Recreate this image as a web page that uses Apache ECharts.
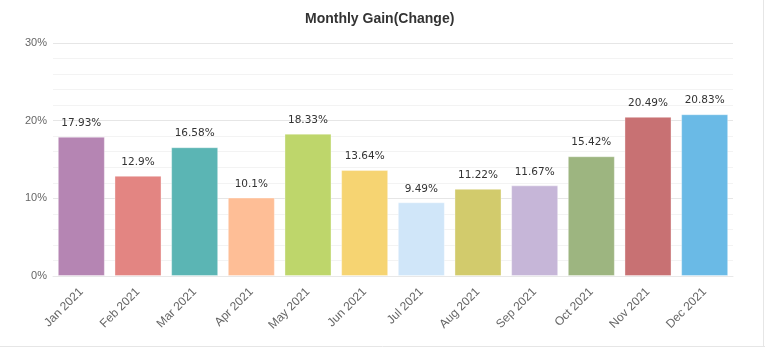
<!DOCTYPE html>
<html><head><meta charset="utf-8">
<script src="https://cdn.jsdelivr.net/npm/echarts@6/dist/echarts.min.js"></script>
<style>html,body{margin:0;padding:0;background:#fff}#c{width:765px;height:356px}</style>
</head><body><div id="c"></div>
<script>
const categories = ['Jan 2021','Feb 2021','Mar 2021','Apr 2021','May 2021','Jun 2021','Jul 2021','Aug 2021','Sep 2021','Oct 2021','Nov 2021','Dec 2021'];
const gains = [17.93, 12.9, 16.58, 10.1, 18.33, 13.64, 9.49, 11.22, 11.67, 15.42, 20.49, 20.83];
const barColors = ['#b585b3','#e38582','#5bb5b4','#febe96','#bed66b','#f6d472','#d0e6f9','#d2cb6c','#c6b6d8','#9db580','#c87173','#6abae6'];
const yTicks = [0, 10, 20, 30];

const chart = echarts.init(document.getElementById('c'));
chart.setOption({
  animation: false,
  title: {
    text: 'Monthly Gain(Change)', left: 300, top: 7,
    textStyle: {fontFamily: 'Liberation Sans, Arial', fontSize: 14, fontWeight: 'bold', color: '#333'}
  },
  grid: {left: 53, right: 32, top: 43, bottom: 80},
  xAxis: {
    type: 'category', data: categories,
    axisLine: {show: true, lineStyle: {color: '#e8e8e8'}},
    axisTick: {show: false},
    axisLabel: {rotate: 45, color: '#666', fontSize: 12, fontFamily: 'Liberation Sans, Arial', margin: 14, interval: 0}
  },
  yAxis: {
    type: 'value', min: yTicks[0], max: yTicks[yTicks.length-1], interval: 10,
    axisLine: {show: false}, axisTick: {show: false},
    axisLabel: {formatter: '{value}%', color: '#666', fontSize: 11, fontFamily: 'Liberation Sans, Arial', margin: 6},
    splitLine: {lineStyle: {color: '#e6e6e6'}},
    minorTick: {show: false, splitNumber: 5},
    minorSplitLine: {show: true, lineStyle: {color: '#f3f3f3'}}
  },
  series: [{
    type: 'bar',
    barCategoryGap: '17%',
    data: gains.map((v, i) => ({value: v, itemStyle: {color: barColors[i], borderColor: 'rgba(255,255,255,0.35)', borderWidth: 1}})),
    label: {
      show: true, position: 'top', distance: 8, formatter: p => p.value + '%',
      color: '#333', fontSize: 10.5, fontFamily: 'DejaVu Sans, Verdana'
    }
  }],
  graphic: [
    {type: 'line', shape: {x1: 763.5, y1: 0, x2: 763.5, y2: 346}, style: {stroke: '#e6e6e6', lineWidth: 1}},
    {type: 'line', shape: {x1: 0, y1: 346.5, x2: 765, y2: 346.5}, style: {stroke: '#e6e6e6', lineWidth: 1}}
  ]
});
</script></body></html>
